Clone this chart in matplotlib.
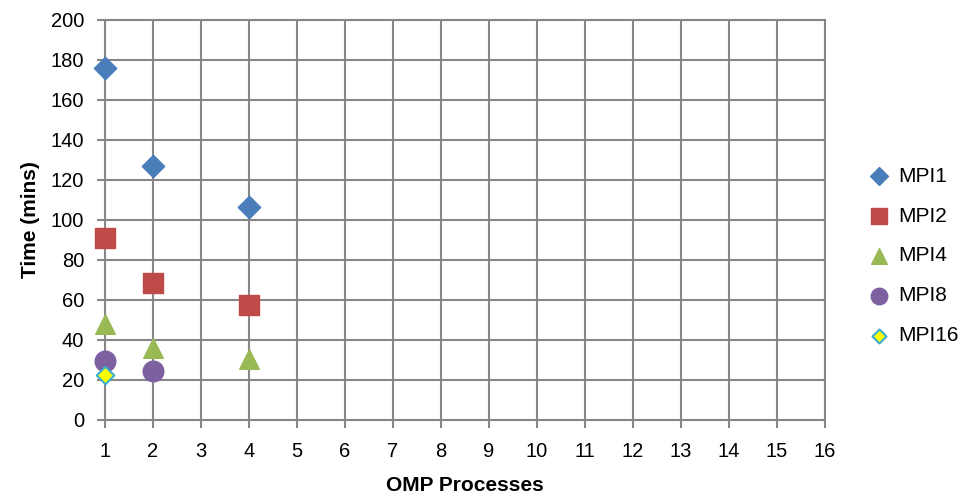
import matplotlib.pyplot as plt

# Data
omp_mpi1 = [1, 2, 4]
time_mpi1 = [176, 127, 106.5]
omp_mpi2 = [1, 2, 4]
time_mpi2 = [91, 68.5, 57.5]
omp_mpi4 = [1, 2, 4]
time_mpi4 = [48, 36, 30.5]
omp_mpi8 = [1, 2]
time_mpi8 = [29.5, 24.5]
omp_mpi16 = [1]
time_mpi16 = [22.5]

x_ticks = list(range(1, 17))
y_ticks = list(range(0, 201, 20))

plt.rcParams['font.family'] = ['Liberation Sans', 'DejaVu Sans']

fig = plt.figure(figsize=(9.67, 4.97), dpi=100)
ax = fig.add_axes([0.1086, 0.155, 0.7444, 0.805])

grid_col = '#878787'

ax.scatter(omp_mpi1, time_mpi1, marker='D', s=130, color='#4a7ebb', label='MPI1',
           zorder=3, clip_on=False)
ax.scatter(omp_mpi2, time_mpi2, marker='s', s=200, color='#be4b48', label='MPI2',
           zorder=3, clip_on=False)
ax.scatter(omp_mpi4, time_mpi4, marker='^', s=200, color='#98b954', label='MPI4',
           zorder=3, clip_on=False)
ax.scatter(omp_mpi8, time_mpi8, marker='o', s=220, color='#7d60a0', label='MPI8',
           zorder=3, clip_on=False)
ax.scatter(omp_mpi16, time_mpi16, marker='D', s=80, color='#ffff00', edgecolors='#3aaecf',
           linewidths=1.5, label='MPI16', zorder=3, clip_on=False)

ax.set_xlim(1, 16)
ax.set_ylim(0, 200)
ax.set_xticks(x_ticks)
ax.set_yticks(y_ticks)
ax.grid(True, color=grid_col, linewidth=1.5)
ax.set_axisbelow(True)
for side in ax.spines.values():
    side.set_color(grid_col)
    side.set_linewidth(1.5)
ax.tick_params(axis='both', colors=grid_col, labelcolor='black', labelsize=14.5,
               length=6, width=1.5, direction='out')
ax.tick_params(axis='x', pad=10)
ax.tick_params(axis='y', pad=9)

ax.set_xlabel('OMP Processes', fontsize=15, fontweight='bold', labelpad=11)
ax.set_ylabel('Time (mins)', fontsize=15, fontweight='bold', labelpad=8)

leg = ax.legend(loc='center left', bbox_to_anchor=(1.0, 0.41), frameon=False, fontsize=15,
                labelspacing=1.0, handletextpad=0.3, handlelength=1.2, markerscale=0.8,
                borderaxespad=1.6)

fig.savefig('out.png', dpi=100)
